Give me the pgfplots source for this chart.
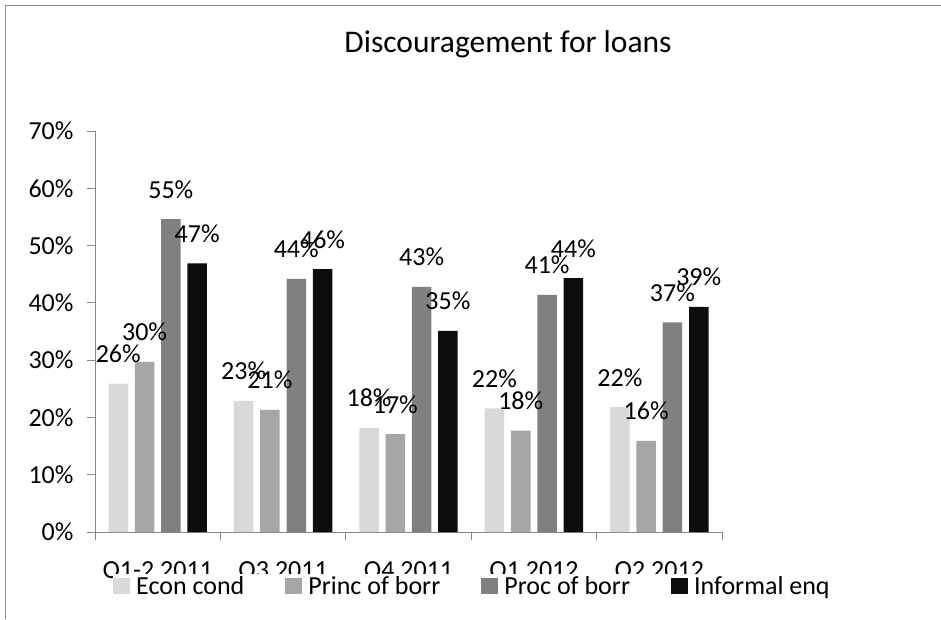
\documentclass[border=0pt]{standalone}
\usepackage{fontspec}
\setmainfont{Carlito}
\usepackage{pgfplots}
\pgfplotsset{compat=1.18}

\definecolor{econ}{HTML}{D9D9D9}
\definecolor{princ}{HTML}{A6A6A6}
\definecolor{proc}{HTML}{808080}
\definecolor{infq}{HTML}{0D0D0D}
\definecolor{axgray}{HTML}{868686}
\definecolor{framegray}{HTML}{8C8C8C}

\begin{document}
\begin{tikzpicture}[font=\fontsize{26}{31}\selectfont]
\useasboundingbox (0,0) rectangle (941pt,-619pt);
\draw[framegray,line width=1.5pt] (5.5pt,-619pt) -- (5.5pt,-5.5pt) -- (941pt,-5.5pt);
\node[anchor=base,font=\fontsize{31.5}{38}\selectfont] at (508pt,-52pt) {Discouragement for loans};
\begin{axis}[
  at={(95pt,-532pt)}, anchor=south west,
  scale only axis, width=627pt, height=401pt,
  ybar=6.8pt, bar width=19.5pt,
  xmin=-0.5, xmax=4.5, ymin=0, ymax=70,
  axis x line*=bottom, axis y line*=left,
  axis line style={axgray,line width=1pt},
  tick align=outside, major tick length=8pt, minor tick length=8pt,
  tick style={axgray,line width=1pt},
  major x tick style={draw=none},
  xtick={0,...,4},
  xticklabels={Q1-2 2011,Q3 2011,Q4 2011,Q1 2012,Q2 2012},
  minor xtick={-0.5,0.5,...,4.5},
  xticklabel style={anchor=base,yshift=-38pt},
  ytick={0,10,...,70},
  yticklabel={\pgfmathprintnumber{\tick}\%},
  yticklabel style={xshift=-10pt},
  /pgf/number format/assume math mode=true,
  nodes near coords={\pgfmathprintnumber[fixed,precision=0,assume math mode=true]{\pgfplotspointmeta}\%},
  every node near coord/.append style={anchor=base,yshift=21pt,inner sep=0pt,text=black,
    font=\fontsize{26}{31}\selectfont},
  legend columns=4,
  legend style={at={(0.0287,-0.135)},anchor=west,draw=none,inner sep=0pt,
    font=\fontsize{26}{31}\selectfont,
    /tikz/every odd column/.append style={column sep=4pt},
    /tikz/every even column/.append style={column sep=39pt}},
  legend image code/.code={\fill[#1] (0pt,-8pt) rectangle (17pt,8pt);},
]
\addplot[fill=econ,draw=none] coordinates {(0,25.9) (1,22.9) (2,18.2) (3,21.6) (4,21.8)};
\addplot[fill=princ,draw=none] coordinates {(0,29.7) (1,21.3) (2,17.1) (3,17.7) (4,15.9)};
\addplot[fill=proc,draw=none] coordinates {(0,54.6) (1,44.2) (2,42.8) (3,41.4) (4,36.6)};
\addplot[fill=infq,draw=none] coordinates {(0,46.9) (1,45.9) (2,35.1) (3,44.3) (4,39.3)};
\legend{Econ cond,Princ of borr,Proc of borr,Informal enq}
\end{axis}
\end{tikzpicture}
\end{document}
